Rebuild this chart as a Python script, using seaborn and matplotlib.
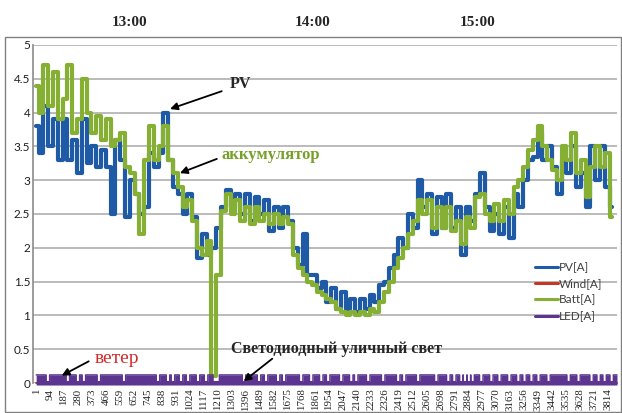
import numpy as np
import pandas as pd
import matplotlib
matplotlib.use("Agg")
import matplotlib.pyplot as plt
import seaborn as sns
from matplotlib.lines import Line2D

# --- data (sample step = 32 records) ---
step = 32
pv = [3.8, 3.4, 4.1, 3.5, 3.9, 3.3, 3.9, 3.3, 3.6, 3.1,
      3.9, 3.25, 3.5, 3.2, 3.45, 3.2, 2.5, 3.6, 3.3, 2.45,
      3.0, 2.8, 2.5, 2.6, 3.4, 3.2, 3.4, 4.0, 3.3, 2.9,
      2.8, 2.5, 2.8, 2.45, 1.85, 2.2, 1.9, 2.0, 2.3, 2.6,
      2.85, 2.6, 2.8, 2.5, 2.8, 2.4, 2.75, 2.5, 2.7, 2.25,
      2.6, 2.3, 2.6, 2.4, 2.0, 1.75, 2.2, 1.6, 1.6, 1.4,
      1.5, 1.2, 1.4, 1.1, 1.35, 1.1, 1.25, 1.05, 1.25, 1.1,
      1.3, 1.2, 1.45, 1.5, 1.7, 1.9, 2.15, 2.0, 2.5, 2.3,
      3.0, 2.6, 2.8, 2.2, 2.75, 2.3, 2.8, 2.3, 2.6, 1.9,
      2.6, 2.4, 2.8, 3.1, 2.6, 2.25, 2.5, 2.2, 2.6, 2.15,
      2.8, 2.6, 3.0, 3.3, 3.35, 3.7, 3.3, 3.5, 3.2, 2.8,
      3.3, 3.1, 3.5, 2.9, 3.1, 2.6, 3.5, 3.0, 3.5, 2.9,
      2.6]
batt = [4.4, 4.0, 4.7, 4.1, 4.6, 3.9, 4.2, 4.7, 3.7, 3.9,
        4.5, 4.0, 3.7, 3.95, 3.6, 3.9, 3.5, 3.6, 3.7, 3.2,
        3.1, 2.8, 2.2, 3.3, 3.8, 3.3, 3.5, 3.8, 3.3, 3.1,
        2.9, 2.6, 2.7, 2.4, 2.0, 1.9, 2.1, 0.1, 1.6, 2.55,
        2.8, 2.5, 2.7, 2.4, 2.6, 2.35, 2.6, 2.4, 2.5, 2.35,
        2.5, 2.35, 2.45, 2.35, 1.9, 1.7, 1.6, 1.5, 1.45, 1.35,
        1.3, 1.25, 1.2, 1.1, 1.05, 1.0, 1.05, 1.0, 1.05, 1.0,
        1.1, 1.05, 1.2, 1.35, 1.5, 1.7, 1.85, 2.0, 2.2, 2.4,
        2.7, 2.5, 2.7, 2.3, 2.6, 2.3, 2.6, 2.25, 2.4, 2.05,
        2.45, 2.3, 2.75, 2.8, 2.5, 2.4, 2.65, 2.4, 2.7, 2.5,
        2.9, 3.0, 3.2, 3.45, 3.6, 3.8, 3.5, 3.3, 3.15, 3.0,
        3.5, 3.3, 3.7, 3.1, 3.3, 2.75, 3.2, 3.5, 3.2, 3.4,
        2.45]
wind_level = 0.0
led_level = 0.12
n_records = 3874
# record numbers where the LED current drops out
led_dips = [68, 201, 268, 308, 408, 575, 802, 869, 902, 956, 1003, 1069, 1123,
            1180, 1200, 1376, 1476, 1523, 1603, 1643, 1757, 1824, 1891, 1937,
            2024, 2091, 2124, 2204, 2304, 2404, 2444, 2537, 2658, 2738, 2778,
            2825, 2850, 2875, 2900, 2958, 3025, 3079, 3145, 3205, 3246, 3292,
            3339, 3406, 3540, 3606, 3693, 3740, 3780, 3827]
tick_labels = [str(1 + 93 * k) for k in range(42)]
hours = ['13:00', '14:00', '15:00']

x_s = 1 + step * np.arange(len(pv))
df = pd.DataFrame({'rec': x_s, 'PV[A]': pv, 'Batt[A]': batt})

rec = np.arange(1, n_records + 1)
led = np.full(n_records, led_level)
for d in led_dips:
    led[d - 1:d + 22] = 0.02
wind = np.full(n_records, wind_level)

c_pv, c_wind, c_batt, c_led = '#1f5aa6', '#c0392b', '#86b033', '#5b3590'

sns.set_theme(style='white')
plt.rcParams['font.family'] = ['Liberation Serif', 'DejaVu Serif']

fig = plt.figure(figsize=(6.22, 4.13), dpi=100)
ax = fig.add_axes([33 / 622, 1 - 383 / 413, 584 / 622, 338 / 413])

sns.lineplot(data=df, x='rec', y='PV[A]', ax=ax, color=c_pv, lw=3.0,
             estimator=None, drawstyle='steps-mid')
ax.plot(rec, wind, color=c_wind, lw=1.5, clip_on=False)
sns.lineplot(data=df, x='rec', y='Batt[A]', ax=ax, color=c_batt, lw=3.0,
             estimator=None, drawstyle='steps-mid')
ax.fill_between(rec, -0.03, led, color=c_led, lw=0, step='mid', clip_on=False, zorder=3)
ax.plot(rec, led, color=c_led, lw=1.0, drawstyle='steps-mid', clip_on=False, zorder=3)

ax.set_xlim(-20, 3874)
ax.set_ylim(0, 5)
ax.set_yticks(np.arange(0, 5.01, 0.5))
ax.set_yticklabels(['0', '0.5', '1', '1.5', '2', '2.5', '3', '3.5', '4', '4.5', '5'],
                   family='Lato', fontsize=8.5, color='#202020')
ax.set_xticks([1 + 93 * k for k in range(42)])
ax.set_xticklabels(tick_labels, rotation=90, fontsize=7.8, color='#202020')
ax.tick_params(axis='both', length=0, pad=2)
ax.tick_params(axis='x', pad=4)
ax.set_xlabel('')
ax.set_ylabel('')
ax.yaxis.grid(True, color='#a8a8a8', lw=1.1)
for s in ['top', 'right', 'bottom']:
    ax.spines[s].set_visible(False)
ax.spines['left'].set_color('#909090')

# outer chart border
fig.patches.append(plt.Rectangle((5 / 622, 0.002), 616 / 622, 1 - 38 / 413, transform=fig.transFigure,
                                 fill=False, edgecolor='#808080', lw=1.0))

for h, px in zip(hours, [130, 313, 478]):
    fig.text(px / 622, 1 - 22 / 413, h, ha='center', va='center', fontsize=11, fontweight='bold')

arrow = dict(arrowstyle='-|>', color='black', lw=1.3, mutation_scale=11)
ax.annotate('', xy=(876, 4.04), xytext=(1256, 4.33), arrowprops=arrow)
ax.text(1290, 4.42, 'PV', fontsize=11.5, fontweight='bold', va='center')
ax.annotate('', xy=(942, 3.09), xytext=(1223, 3.33), arrowprops=arrow)
ax.text(1236, 3.38, 'аккумулятор', fontsize=12, fontweight='bold', color='#76a02a', va='center')
ax.annotate('', xy=(155, 0.09), xytext=(368, 0.34), arrowprops=arrow)
ax.text(388, 0.36, 'ветер', fontsize=14, color='#d42a2a', va='center')
ax.annotate('', xy=(1370, 0.0), xytext=(1590, 0.385), arrowprops=arrow, annotation_clip=False)
ax.text(1303, 0.51, 'Светодиодный уличный свет', fontsize=11.5, fontweight='bold', va='center')

handles = [Line2D([], [], color=c, lw=2.2) for c in [c_pv, c_wind, c_batt, c_led]]
leg = ax.legend(handles, ['PV[A]', 'Wind[A]', 'Batt[A]', 'LED[A]'], loc='upper left',
                bbox_to_anchor=(0.842, 0.39), frameon=False, handlelength=1.9,
                handletextpad=0.1, labelspacing=0.45, prop={'family': 'Lato', 'size': 8.5})
for t in leg.get_texts():
    t.set_color('#404040')

fig.savefig('out.png', dpi=100)
